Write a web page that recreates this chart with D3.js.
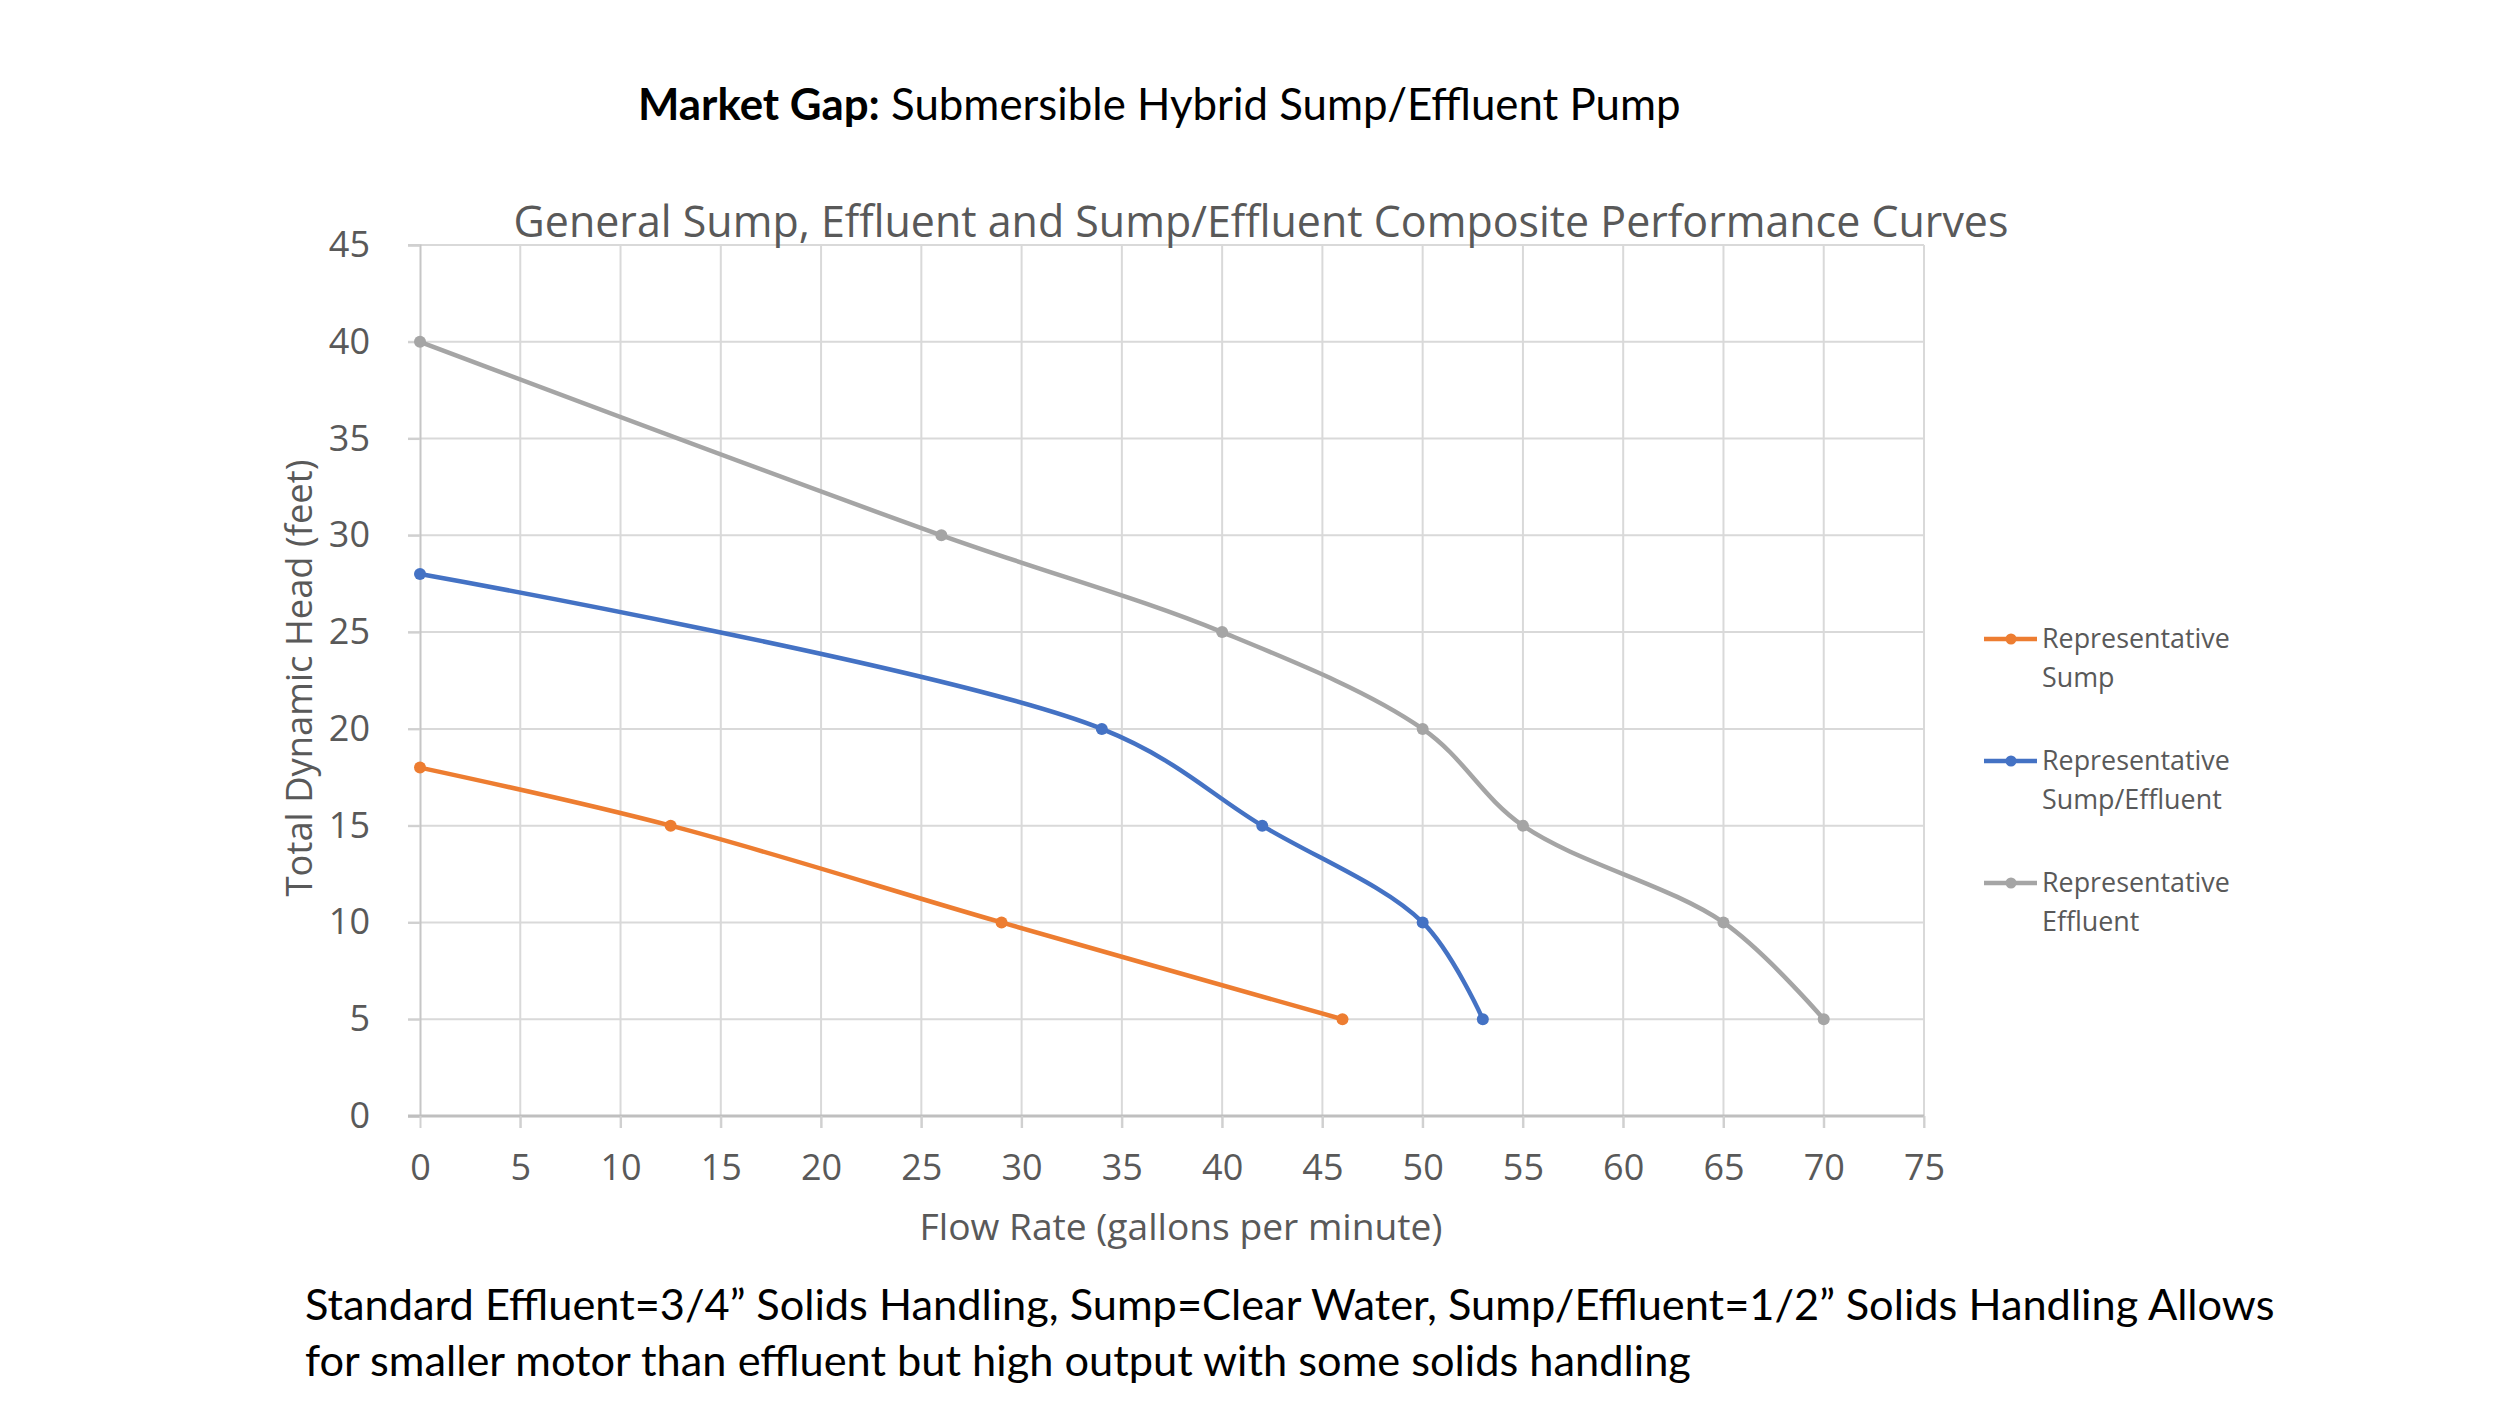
<!DOCTYPE html>
<html>
<head>
<meta charset="utf-8">
<script src="https://cdn.jsdelivr.net/npm/d3@7"></script>
<style>
  html, body { margin: 0; padding: 0; background: #ffffff; }
  svg { display: block; }
</style>
</head>
<body>
<svg id="chart" width="2500" height="1406"></svg>
<script>
// ---------------- DATA ----------------
const seriesNames = ["Representative Sump", "Representative Sump/Effluent", "Representative Effluent"];
const sumpFlow = [0, 12.5, 29, 46];
const sumpHead = [18, 15, 10, 5];
const hybridFlow = [0, 34, 42, 50, 53];
const hybridHead = [28, 20, 15, 10, 5];
const effluentFlow = [0, 26, 40, 50, 55, 65, 70];
const effluentHead = [40, 30, 25, 20, 15, 10, 5];
const xTickValues = [0, 5, 10, 15, 20, 25, 30, 35, 40, 45, 50, 55, 60, 65, 70, 75];
const yTickValues = [0, 5, 10, 15, 20, 25, 30, 35, 40, 45];
const legendLines = [["Representative", "Sump"], ["Representative", "Sump/Effluent"], ["Representative", "Effluent"]];
const pageTitleBold = "Market Gap:";
const pageTitleRest = " Submersible Hybrid Sump/Effluent Pump";
const chartTitle = "General Sump, Effluent and Sump/Effluent Composite Performance Curves";
const xAxisTitle = "Flow Rate (gallons per minute)";
const yAxisTitle = "Total Dynamic Head (feet)";
const noteLines = [
  "Standard Effluent=3/4\u201D Solids Handling, Sump=Clear Water, Sump/Effluent=1/2\u201D Solids Handling Allows",
  "for smaller motor than effluent but high output with some solids handling"
];

// ---------------- LAYOUT ----------------
const colors = ["#ED7D31", "#4472C4", "#A5A5A5"];
const textGray = "#595959";
const chartFont = "'Open Sans', 'Noto Sans', sans-serif";
const docFont = "Lato, 'Liberation Sans', sans-serif";

const svg = d3.select("#chart");
const x = d3.scaleLinear().domain([0, 75]).range([420, 1924]);
const y = d3.scaleLinear().domain([0, 45]).range([1116, 245]);

function fitWidth(sel, w) {
  const fs = parseFloat(sel.attr("font-size"));
  const bw = sel.node().getBBox().width;
  sel.attr("font-size", fs * w / bw);
}

// gridlines
const grid = svg.append("g").attr("class", "grid");
grid.selectAll("line.h").data(yTickValues.filter(v => v > 0)).join("line")
  .attr("class", "h")
  .attr("x1", x(0) - 12).attr("x2", x(75))
  .attr("y1", d => y(d)).attr("y2", d => y(d))
  .attr("stroke", "#d9d9d9").attr("stroke-width", 2);
grid.selectAll("line.v").data(xTickValues.filter(v => v > 0)).join("line")
  .attr("class", "v")
  .attr("x1", d => x(d)).attr("x2", d => x(d))
  .attr("y1", y(45)).attr("y2", y(0) + 12)
  .attr("stroke", "#d9d9d9").attr("stroke-width", 2);

// y axis
const yAxis = svg.append("g").attr("transform", `translate(${x(0)},0)`)
  .call(d3.axisLeft(y).tickValues(yTickValues).tickSize(12).tickPadding(38).tickFormat(d3.format("d")));
yAxis.select(".domain").attr("stroke", "#c6c6c6").attr("stroke-width", 2);
yAxis.selectAll(".tick line").attr("stroke", "#d0d0d0").attr("stroke-width", 2);
yAxis.selectAll(".tick text").attr("fill", textGray).attr("font-size", 36).attr("font-family", chartFont);

// x axis
const xAxis = svg.append("g").attr("transform", `translate(0,${y(0)})`)
  .call(d3.axisBottom(x).tickValues(xTickValues).tickSize(12).tickPadding(26).tickFormat(d3.format("d")));
xAxis.select(".domain").remove();
xAxis.insert("line", ":first-child").attr("x1", x(0) - 12).attr("x2", x(75)).attr("y1", 0).attr("y2", 0)
  .attr("stroke", "#bfbfbf").attr("stroke-width", 3);
xAxis.selectAll(".tick line").attr("stroke", "#d0d0d0").attr("stroke-width", 2);
xAxis.selectAll(".tick text").attr("fill", textGray).attr("font-size", 36).attr("font-family", chartFont);

// series
const series = [
  { name: seriesNames[0], pts: sumpFlow.map((f, i) => [f, sumpHead[i]]) },
  { name: seriesNames[1], pts: hybridFlow.map((f, i) => [f, hybridHead[i]]) },
  { name: seriesNames[2], pts: effluentFlow.map((f, i) => [f, effluentHead[i]]) }
];
const line = d3.line().x(d => x(d[0])).y(d => y(d[1])).curve(d3.curveCatmullRom.alpha(0.5));
const sg = svg.append("g");
series.forEach((s, i) => {
  sg.append("path").attr("d", line(s.pts)).attr("fill", "none")
    .attr("stroke", colors[i]).attr("stroke-width", 4.5).attr("stroke-linejoin", "round").attr("stroke-linecap", "round");
  sg.selectAll(null).data(s.pts).join("circle")
    .attr("cx", d => x(d[0])).attr("cy", d => y(d[1])).attr("r", 6).attr("fill", colors[i]);
});

// legend
const legendTop = [639, 761, 883];
const lg = svg.append("g");
legendLines.forEach((lines, i) => {
  const yy = legendTop[i];
  lg.append("line").attr("x1", 1984).attr("x2", 2037).attr("y1", yy).attr("y2", yy)
    .attr("stroke", colors[i]).attr("stroke-width", 4.5);
  lg.append("circle").attr("cx", 2011).attr("cy", yy).attr("r", 5.5).attr("fill", colors[i]);
  const t = lg.append("text").attr("x", 2042).attr("y", yy + 9)
    .attr("font-family", chartFont).attr("font-size", 30).attr("fill", textGray);
  t.append("tspan").attr("x", 2042).text(lines[0]);
  t.append("tspan").attr("x", 2042).attr("dy", 39).text(lines[1]);
});
(function () {
  const probe = lg.append("text").attr("font-family", chartFont).attr("font-size", 30).text(legendLines[0][0]);
  const w = probe.node().getBBox().width;
  probe.remove();
  lg.selectAll("text").attr("font-size", 30 * 188 / w);
})();

// axis titles
const xt = svg.append("text").attr("x", 1181).attr("y", 1240).attr("text-anchor", "middle")
  .attr("font-family", chartFont).attr("font-size", 34).attr("fill", textGray).text(xAxisTitle);
fitWidth(xt, 523);
const yt = svg.append("text").attr("transform", "translate(312,678) rotate(-90)").attr("text-anchor", "middle")
  .attr("font-family", chartFont).attr("font-size", 34).attr("fill", textGray).text(yAxisTitle);
fitWidth(yt, 437);

// chart title
const ct = svg.append("text").attr("x", 1261).attr("y", 237).attr("text-anchor", "middle")
  .attr("font-family", chartFont).attr("font-size", 40).attr("fill", textGray).text(chartTitle);
fitWidth(ct, 1495);

// page title
const pt = svg.append("text").attr("x", 638).attr("y", 120)
  .attr("font-family", docFont).attr("font-size", 44).attr("fill", "#000");
pt.append("tspan").attr("font-weight", "bold").text(pageTitleBold);
pt.append("tspan").text(pageTitleRest);
fitWidth(pt, 1043);

// bottom note
const nt = svg.append("text").attr("font-family", docFont).attr("font-size", 42).attr("fill", "#000");
nt.append("tspan").attr("x", 305).attr("y", 1320).text(noteLines[0]);
const fs0 = 42;
const w0 = nt.node().getBBox().width;
nt.attr("font-size", fs0 * 1970 / w0);
nt.append("tspan").attr("x", 305).attr("y", 1376).text(noteLines[1]);
</script>
</body>
</html>
